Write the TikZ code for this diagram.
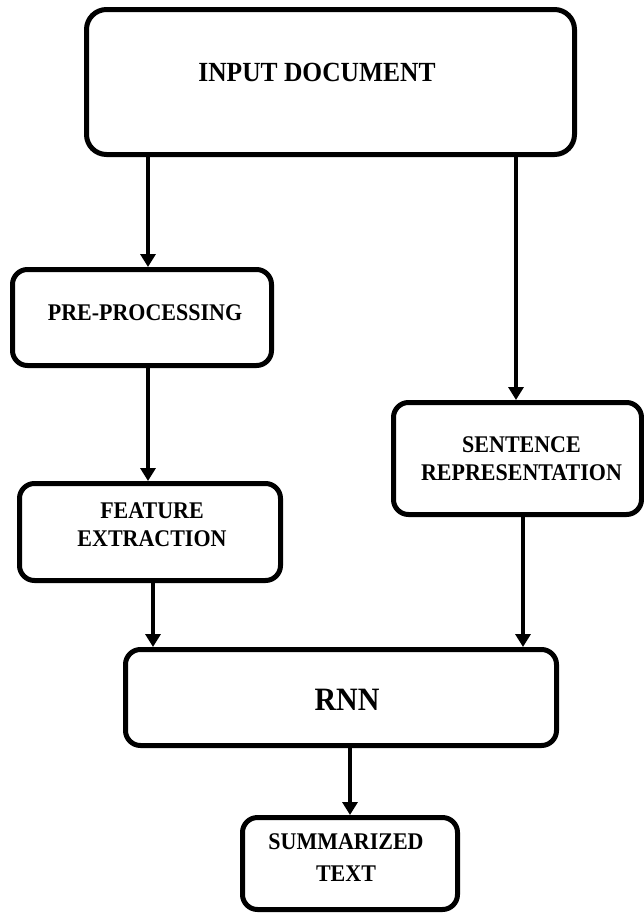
\documentclass[tikz,border=0pt]{standalone}
\usepackage{fontspec}
\setmainfont[FakeStretch=0.92]{Liberation Serif}
\usetikzlibrary{arrows.meta}

\begin{document}
\begin{tikzpicture}[x=1pt, y=-1pt, >={Triangle[width=15pt,length=13pt]}, line width=4pt]

    \tikzset{block/.style={draw=black, line width=5pt, rounded corners=15pt, inner sep=0pt},
             every label/.style={font=\bfseries\fontsize{23.9}{28}\selectfont, align=center, inner sep=0pt}}

    \useasboundingbox (0,0) rectangle (644,914);

    \node[block, minimum width=488pt, minimum height=145pt, rounded corners=20pt,
          label={[xshift=-13.5pt, yshift=10pt, font=\bfseries\fontsize{27.7}{30}\selectfont]center:INPUT DOCUMENT}]
          (input) at (330.5,82) {};
    \node[block, minimum width=259pt, minimum height=96pt,
          label={[xshift=3pt, yshift=4.5pt]center:PRE-PROCESSING}]
          (pre) at (142,317.5) {};
    \node[block, minimum width=248pt, minimum height=112pt,
          label={[xshift=4pt]center:SENTENCE\\REPRESENTATION}]
          (sent) at (517.5,458.5) {};
    \node[block, minimum width=261pt, minimum height=97pt,
          label={[xshift=2pt, yshift=7.5pt]center:FEATURE\\EXTRACTION}]
          (feat) at (150,532) {};
    \node[block, minimum width=431pt, minimum height=96pt,
          label={[xshift=6pt, yshift=-2.5pt, font=\bfseries\fontsize{32.6}{36}\selectfont]center:RNN}]
          (rnn) at (341,697.5) {};
    \node[block, minimum width=215pt, minimum height=92pt,
          label={[xshift=-4pt, yshift=6pt, font=\bfseries\fontsize{23.9}{32}\selectfont]center:SUMMARIZED\\TEXT}]
          (summ) at (350,863.5) {};

    % connectors
    \draw[->] ([xshift=6pt]pre.north |- input.south) -- ([xshift=6pt]pre.north);
    \draw[->] ([xshift=-1.5pt]sent.north |- input.south) -- ([xshift=-1.5pt]sent.north);
    \draw[->] ([xshift=6pt]pre.south) -- ([xshift=6pt]pre.south |- feat.north);
    \draw[->] ([xshift=3pt]feat.south) -- ([xshift=3pt]feat.south |- rnn.north);
    \draw[->] ([xshift=5.5pt]sent.south) -- ([xshift=5.5pt]sent.south |- rnn.north);
    \draw[->] (rnn.south -| summ.north) -- (summ.north);

\end{tikzpicture}
\end{document}
